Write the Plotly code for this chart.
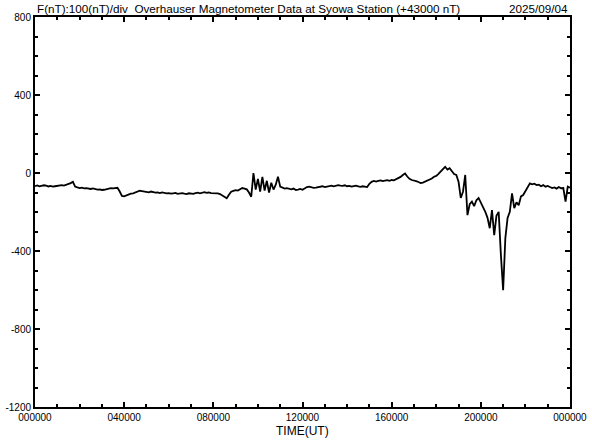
import numpy as np
import plotly.graph_objects as go

# time in hours (UT), 0.1 h resolution
hours = [round(i * 0.1, 1) for i in range(241)]

# F (nT) relative to 43000 nT
values = [
    -67, -64, -68, -66, -63, -65, -69, -66, -70, -68,
    -66, -64, -62, -65, -61, -58, -52, -45, -70, -74,
    -77, -75, -79, -78, -80, -82, -79, -83, -85, -84,
    -87, -86, -83, -80, -78, -79, -77, -76, -95, -118,
    -120, -114, -110, -106, -104, -100, -95, -91, -93, -96,
    -97, -99, -95, -98, -101, -100, -103, -99, -102, -104,
    -103, -106, -104, -102, -107, -105, -103, -106, -108, -104,
    -105, -107, -103, -101, -104, -100, -98, -102, -100, -103,
    -103, -106, -104, -108, -115, -122, -130, -112, -96, -92,
    -88, -90, -84, -77, -80, -84, -100, -122, 0, -85,
    -30, -95, -20, -90, -40, -100, -50, -85, -60, -19,
    -70, -75, -80, -78, -82, -84, -80, -87, -85, -82,
    -86, -78, -72, -70, -74, -76, -75, -72, -70, -68,
    -72, -70, -67, -65, -68, -64, -62, -65, -66, -63,
    -68, -66, -70, -67, -65, -69, -71, -68, -70, -72,
    -55, -45, -41, -44, -40, -38, -42, -39, -37, -40,
    -36, -38, -32, -28, -20, -10, -2, -18, -30, -36,
    -38, -42, -46, -51, -49, -44, -40, -35, -28, -19,
    -15, -5, 10, 20, 32, 18, 25, 8, -5, -10,
    -45, -128, -96, -10, -216, -160, -147, -170, -140, -128,
    -150, -175, -199, -230, -283, -190, -319, -220, -199, -420,
    -601, -334, -230, -199, -104, -180, -150, -165, -120, -113,
    -95, -70, -53, -58, -55, -62, -60, -68, -62, -70,
    -66, -72, -77, -74, -80, -72, -78, -77, -147, -70,
    -75,
]

x_tickvals = [0, 4, 8, 12, 16, 20, 24]
x_ticktext = ["000000", "040000", "080000", "120000", "160000", "200000", "000000"]
y_tickvals = [800, 400, 0, -400, -800, -1200]
y_ticktext = ["800", "400", "0", "-400", "-800", "-1200"]

title_text = "F(nT):100(nT)/div  Overhauser Magnetometer Data at Syowa Station (+43000 nT)"
date_text = "2025/09/04"
x_title = "TIME(UT)"

font_family = "Liberation Sans, Arial, sans-serif"

fig = go.Figure()
fig.add_trace(go.Scatter(
    x=hours, y=values, mode="lines",
    line=dict(color="black", width=1.8),
    hoverinfo="skip", showlegend=False,
))

fig.update_layout(
    width=592, height=440,
    margin=dict(l=35, r=22, t=17, b=33, autoexpand=False),
    paper_bgcolor="white", plot_bgcolor="white",
    font=dict(family=font_family, size=10, color="black"),
    xaxis=dict(
        range=[0, 24], tickvals=x_tickvals, ticktext=x_ticktext,
        showgrid=False, zeroline=False, automargin=False,
        showline=True, linecolor="black", linewidth=2, mirror="ticks",
        ticks="inside", ticklen=5, tickwidth=2, tickcolor="black",
        minor=dict(dtick=1, ticks="inside", ticklen=3, tickwidth=1.5, tickcolor="black"),
        tickfont=dict(size=10), ticklabelstandoff=0,
    ),
    yaxis=dict(
        range=[-1200, 800], tickvals=y_tickvals, ticktext=y_ticktext,
        showgrid=False, zeroline=False, automargin=False,
        showline=True, linecolor="black", linewidth=2, mirror="ticks",
        ticks="inside", ticklen=5, tickwidth=2, tickcolor="black",
        minor=dict(dtick=100, ticks="inside", ticklen=3, tickwidth=1.5, tickcolor="black"),
        tickfont=dict(size=10), ticklabelstandoff=0,
    ),
    annotations=[
        dict(text=title_text, x=0, y=1, xref="paper", yref="paper",
             xanchor="left", yanchor="bottom", yshift=0, showarrow=False,
             font=dict(size=11.7)),
        dict(text=date_text, x=1, y=1, xref="paper", yref="paper",
             xanchor="right", yanchor="bottom", showarrow=False,
             font=dict(size=11.7)),
        dict(text=x_title, x=0.5, y=0, xref="paper", yref="paper",
             xanchor="center", yanchor="top", yshift=-15, showarrow=False,
             font=dict(size=12)),
    ],
)

fig.write_html(
    "out.html",
    config={"displayModeBar": False},
    post_script="document.body.style.margin='0px';document.body.style.overflow='hidden';",
)
